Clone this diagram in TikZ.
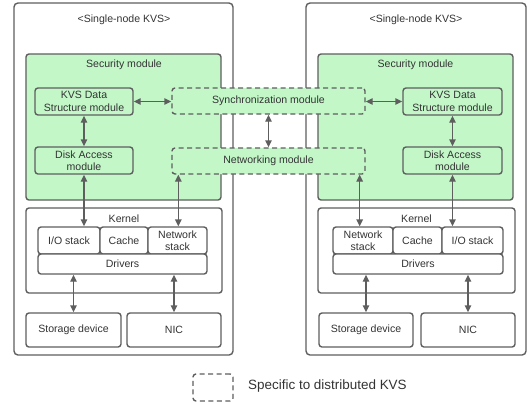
\documentclass[tikz,border=0pt]{standalone}
\usepackage{fontspec}
\setmainfont{Liberation Sans}
\usetikzlibrary{arrows.meta}
\definecolor{ln}{HTML}{5E5E5E}
\definecolor{gr}{HTML}{C3F7C8}
\definecolor{tx}{HTML}{333333}
\begin{document}
\begin{tikzpicture}[x=1bp,y=-1bp,
  box/.style={draw=ln, line width=1.4bp, rounded corners=3bp, inner sep=0pt, text=tx,
    font=\fontsize{10.6}{12.5}\selectfont, align=center, fill=white},
  outer/.style={box, rounded corners=4bp},
  green/.style={box, fill=gr},
  dashbox/.style={box, fill=gr, dash pattern=on 5bp off 3.5bp},
  lbl/.style={text=tx, font=\fontsize{10.6}{12.5}\selectfont, inner sep=0pt},
  arr/.style={draw=ln, line width=1.4bp, {Triangle[width=6.5bp,length=7bp]}-{Triangle[width=6.5bp,length=7bp]}},
  sz/.style 2 args={minimum width=#1bp, minimum height=#2bp}
]
\useasboundingbox (0,0) rectangle (528,403);
% outer boxes
\node[outer, sz={219}{352}] (outL) at (123.5,179) {};
\node[outer, sz={220}{352}] (outR) at (416,179) {};
\node[lbl] (titL) at (124,20) {<Single-node KVS>};
\node[lbl] (titR) at (416,20) {<Single-node KVS>};
% security modules
\node[green, sz={195}{146}] (secL) at (123.5,127) {};
\node[green, sz={195}{146}] (secR) at (415.5,127) {};
\node[lbl] (secLt) at (124,65) {Security module};
\node[lbl] (secRt) at (415.5,65) {Security module};
% modules
\node[green, sz={98}{27}] (kvsL) at (84,101.5) {KVS Data\\Structure module};
\node[green, sz={98}{27}] (diskL) at (84,160.5) {Disk Access\\module};
\node[green, sz={99}{27}] (kvsR) at (452.5,101.5) {KVS Data\\Structure module};
\node[green, sz={99}{27}] (diskR) at (452.5,160.5) {Disk Access\\module};
% kernels
\node[box, sz={196}{85}] (kerL) at (124,250.5) {};
\node[box, sz={197}{85}] (kerR) at (416.5,250.5) {};
\node[lbl] (kerLt) at (124,219) {Kernel};
\node[lbl] (kerRt) at (416.5,219) {Kernel};
\node[box, sz={62}{27}] (ioL) at (69,240.5) {I/O stack};
\node[box, sz={48}{27}] (caL) at (124,240.5) {Cache};
\node[box, sz={59}{27}] (nsL) at (177.5,240.5) {Network\\stack};
\node[box, sz={169}{20}] (drL) at (122.5,264) {Drivers};
\node[box, sz={60}{27}] (nsR) at (363,240.5) {Network\\stack};
\node[box, sz={49}{27}] (caR) at (417.5,240.5) {Cache};
\node[box, sz={61}{27}] (ioR) at (472.5,240.5) {I/O stack};
\node[box, sz={170}{20}] (drR) at (418,264) {Drivers};
% devices
\node[box, sz={95}{34}] (stL) at (73.5,330) {Storage device};
\node[box, sz={94}{34}] (nicL) at (174,330) {NIC};
\node[box, sz={94}{34}] (stR) at (366,330) {Storage device};
\node[box, sz={94}{34}] (nicR) at (468,330) {NIC};
% distributed modules
\node[dashbox, sz={193}{26}] (sync) at (268.5,101) {Synchronization module};
\node[dashbox, sz={193}{26}] (net) at (268.5,161) {Networking module};
% legend
\node[dashbox, fill=white, sz={40}{27}] (leg) at (213,387.5) {};
\node[text=tx, font=\fontsize{13.5}{16}\selectfont, anchor=west, inner sep=0pt] (legt) at (248,386) {Specific to distributed KVS};
% arrows
\draw[arr] (kvsL.east) -- (kvsL.east -| sync.west);
\draw[arr] (sync.east |- kvsR.west) -- (kvsR.west);
\draw[arr] (sync.south) -- (net.north);
\draw[arr] (kvsL.south) -- (diskL.north);
\draw[arr] (kvsR.south) -- (diskR.north);
\draw[arr] (diskL.south) -- (diskL.south |- ioL.north);
\draw[arr] ([xshift=7bp]net.south west) -- ([xshift=7bp]net.south west |- nsL.north);
\draw[arr] ([xshift=-6bp]net.south east) -- ([xshift=-6bp]net.south east |- nsR.north);
\draw[arr] (diskR.south) -- (diskR.south |- ioR.north);
\draw[arr] (drL.south -| stL.north) -- (stL.north);
\draw[arr] (drL.south -| nicL.north) -- (nicL.north);
\draw[arr] (drR.south -| stR.north) -- (stR.north);
\draw[arr] (drR.south -| nicR.north) -- (nicR.north);
\end{tikzpicture}
\end{document}
